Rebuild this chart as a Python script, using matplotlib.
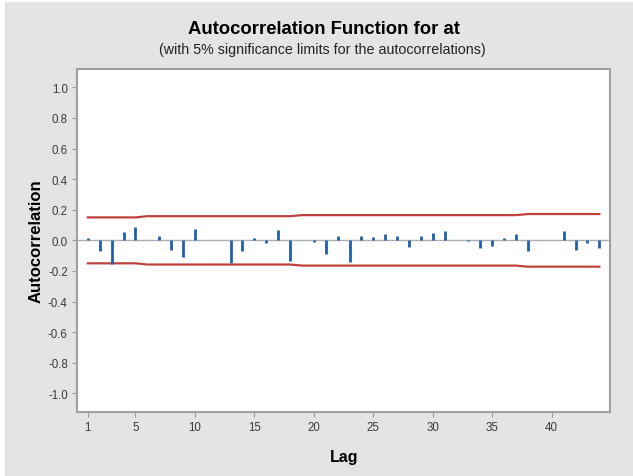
import numpy as np
import matplotlib.pyplot as plt
from matplotlib.patches import Rectangle

# autocorrelation at each lag
lags = list(range(1, 45))
acf = [0.013, -0.068, -0.155, 0.052, 0.085, 0.004, 0.026, -0.061, -0.109, 0.076,
       0.0, 0.0, -0.150, -0.070, 0.017, -0.018, 0.070, -0.133, 0.0, -0.010,
       -0.091, 0.030, -0.139, 0.030, 0.020, 0.039, 0.030, -0.043, 0.030, 0.048,
       0.063, 0.005, -0.005, -0.052, -0.037, 0.017, 0.044, -0.072, 0.0, 0.005,
       0.059, -0.061, -0.020, -0.052]
# 5% significance limit at each lag
limit = [0.150] * 5 + [0.158] * 13 + [0.165] * 19 + [0.172] * 7
ytick_vals = [-1.0, -0.8, -0.6, -0.4, -0.2, 0.0, 0.2, 0.4, 0.6, 0.8, 1.0]
ytick_labels = ['-1.0', '-0.8', '-0.6', '-0.4', '-0.2', '0.0', '0.2', '0.4', '0.6', '0.8', '1.0']

plt.rcParams['font.family'] = ['Liberation Sans', 'DejaVu Sans']

fig = plt.figure(figsize=(6.33, 4.77), dpi=100, facecolor='white')
bg = Rectangle((5 / 633, 0), 1, 1 - 3 / 477, transform=fig.transFigure,
               facecolor='#e4e4e4', edgecolor='none', zorder=-10)
fig.add_artist(bg)

ax = fig.add_axes([0.1224, 0.1348, 0.8413, 0.7184])
ax.set_facecolor('white')

ax.axhline(0, color='#b0b0b0', lw=1, zorder=1)
ax.vlines(lags, 0, acf, color='#1f5fae', lw=2.0, zorder=3)
ax.plot(lags, limit, color='#bd423c', lw=1.6, zorder=2)
ax.plot(lags, [-v for v in limit], color='#bd423c', lw=1.6, zorder=2)

ax.set_xlim(0.13, 44.9)
ax.set_ylim(-1.12, 1.12)
ax.set_xticks([1, 5, 10, 15, 20, 25, 30, 35, 40])
ax.set_yticks(ytick_vals)
ax.set_yticklabels(ytick_labels)
ax.tick_params(colors='#9a9a9a', labelcolor='#3a3a3a', labelsize=8.3, length=3.5, width=0.8)

for s in ax.spines.values():
    s.set_color('#a0a0a0')
    s.set_linewidth(1.5)

ax.set_xlabel('Lag', fontsize=11.5, fontweight='bold', labelpad=11)
ax.set_ylabel('Autocorrelation', fontsize=12, fontweight='bold', labelpad=3)

fig.text(0.511, 1 - 29 / 477, 'Autocorrelation Function for at', ha='center', va='center',
         fontsize=13.3, fontweight='bold')
fig.text(0.509, 1 - 50 / 477, '(with 5% significance limits for the autocorrelations)',
         ha='center', va='center', fontsize=10.3, color='#222222')

fig.savefig('out.png', dpi=100, facecolor=fig.get_facecolor())
